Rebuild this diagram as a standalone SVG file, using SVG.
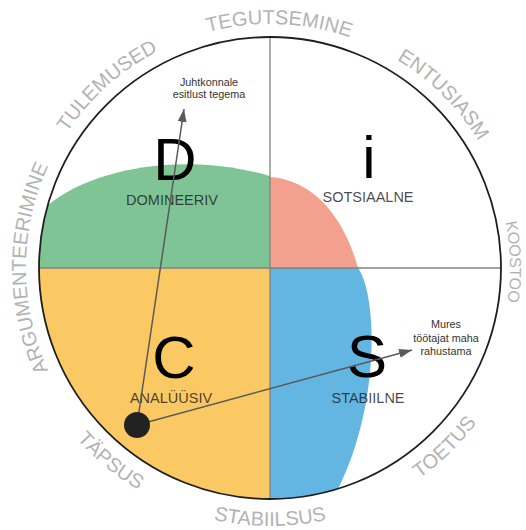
<svg xmlns="http://www.w3.org/2000/svg" width="526" height="530" viewBox="0 0 526 530">
  <style>
    .outer { font-family: "Liberation Sans", Arial, sans-serif; font-size: 20px; fill: #b3b3b3; }
    .big { font-family: "Liberation Sans", Arial, sans-serif; font-size: 60px; fill: #000; text-anchor: middle; }
    .sub { font-family: "Liberation Sans", Arial, sans-serif; font-size: 14.5px; fill: #1a1a1a; fill-opacity: 0.8; text-anchor: middle; }
    .note { font-family: "Liberation Sans", Arial, sans-serif; font-size: 10.8px; fill: #333; text-anchor: middle; }
    .conn { stroke: #5a5a5a; stroke-width: 1.5; fill: none; }
    .axis { stroke: #808080; stroke-width: 1.3; }
  </style>
  <defs>
    <path id="topArc" d="M 270,512 A 244 244 0 1 1 270,24 A 244 244 0 1 1 270,512"/>
    <path id="rightArc" d="M 270,508 A 240 240 0 1 1 270,28 A 240 240 0 1 1 270,508"/>
    <path id="botArc" d="M 270,10 A 258 258 0 1 0 270,526 A 258 258 0 1 0 270,10"/>
    <marker id="arrow" markerUnits="userSpaceOnUse" markerWidth="13" markerHeight="9" refX="13" refY="4.5" orient="auto">
      <path d="M0,0 L13,4.5 L0,9 Z" fill="#5a5a5a"/>
    </marker>
  </defs>
  <rect width="526" height="530" fill="#fff"/>

  <g id="quadrant-D">
    <path d="M 48,205 C 90,170 180,150 270,176 L 270,268 L 39,268 A 231 231 0 0 1 48,205 Z" fill="#7fc495"/>
  </g>
  <g id="quadrant-i">
    <path d="M 270,268 L 270,177 C 315,180 345,220 358,268 Z" fill="#f4a08e"/>
  </g>
  <g id="quadrant-C">
    <path d="M 270,268 L 39,268 A 231 231 0 0 0 270,499 Z" fill="#fbc963"/>
  </g>
  <g id="quadrant-S">
    <path d="M 270,268 L 358,268 C 376,292 382,400 338,489 A 231 231 0 0 1 270,499 Z" fill="#63b5e2"/>
  </g>

  <g id="frame">
    <line class="axis" x1="270" y1="37" x2="270" y2="499"/>
    <line class="axis" x1="39" y1="268" x2="501" y2="268"/>
    <circle cx="270" cy="268" r="231" fill="none" stroke="#1e1e1e" stroke-width="1.8"/>
  </g>

  <g id="labels-D">
    <text class="big" x="175" y="180">D</text>
    <text class="sub" x="172" y="205">DOMINEERIV</text>
  </g>
  <g id="labels-i">
    <text class="big" x="369" y="178">i</text>
    <text class="sub" x="368" y="202">SOTSIAALNE</text>
  </g>
  <g id="labels-C">
    <text class="big" x="174" y="378">C</text>
    <text class="sub" x="171" y="403">ANALÜÜSIV</text>
  </g>
  <g id="labels-S">
    <text class="big" x="367" y="377">S</text>
    <text class="sub" x="368" y="403">STABIILNE</text>
  </g>

  <g id="outer-labels">
    <text class="outer" text-anchor="middle"><textPath href="#topArc" startOffset="25%">ARGUMENTEERIMINE</textPath></text>
    <text class="outer" text-anchor="middle"><textPath href="#topArc" startOffset="38.4%">TULEMUSED</textPath></text>
    <text class="outer" text-anchor="middle"><textPath href="#topArc" startOffset="50.6%">TEGUTSEMINE</textPath></text>
    <text class="outer" text-anchor="middle"><textPath href="#topArc" startOffset="62.5%">ENTUSIASM</textPath></text>
    <text class="outer" text-anchor="middle" style="font-size:16px"><textPath href="#rightArc" startOffset="74.6%">KOOSTOO</textPath></text>
    <text class="outer" text-anchor="middle"><textPath href="#botArc" startOffset="39%">TÄPSUS</textPath></text>
    <text class="outer" text-anchor="middle"><textPath href="#botArc" startOffset="50%">STABIILSUS</textPath></text>
    <text class="outer" text-anchor="middle"><textPath href="#botArc" startOffset="62.3%">TOETUS</textPath></text>
  </g>

  <g id="connectors">
    <line class="conn" x1="137" y1="425" x2="184" y2="109" marker-end="url(#arrow)"/>
    <line class="conn" x1="137" y1="425" x2="412" y2="350" marker-end="url(#arrow)"/>
  </g>

  <g id="origin-dot">
    <circle cx="137" cy="425" r="13" fill="#222"/>
  </g>

  <g id="note-top">
    <text class="note" x="209" y="86">Juhtkonnale</text>
    <text class="note" x="209" y="98">esitlust tegema</text>
  </g>
  <g id="note-right">
    <text class="note" x="446" y="328">Mures</text>
    <text class="note" x="446" y="342">töötajat maha</text>
    <text class="note" x="446" y="355">rahustama</text>
  </g>
</svg>
